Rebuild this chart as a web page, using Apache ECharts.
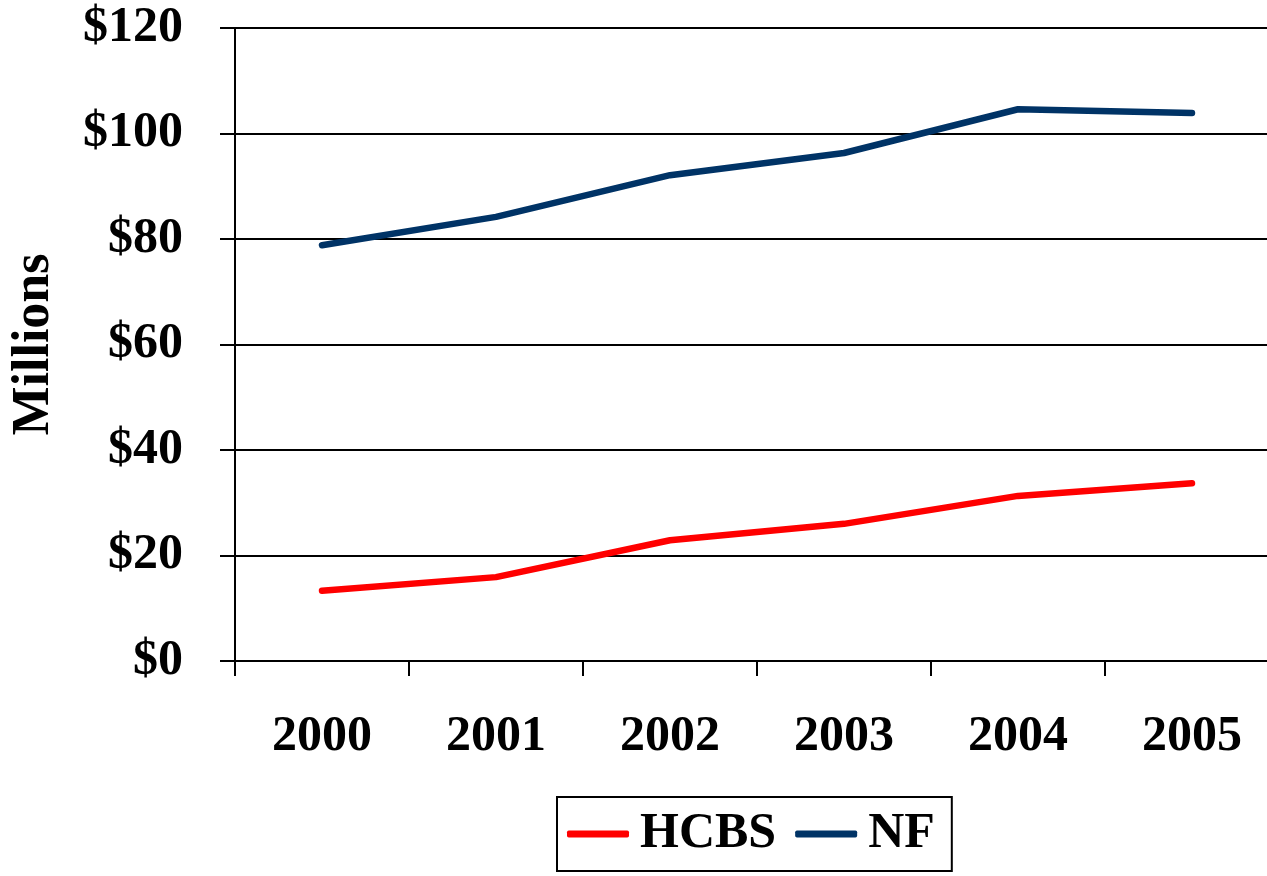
<!DOCTYPE html>
<html>
<head>
<meta charset="utf-8">
<script src="https://cdn.jsdelivr.net/npm/echarts@6/dist/echarts.min.js"></script>
<style>
  html, body { margin: 0; padding: 0; background: #fff; }
  #chart { width: 1267px; height: 876px; }
</style>
</head>
<body>
<div id="chart"></div>
<script>
// years on the x axis
var years = ['2000', '2001', '2002', '2003', '2004', '2005']
// spending, millions of dollars
var hcbs = [13.3, 15.9, 22.9, 26.0, 31.3, 33.7]
var nf = [78.8, 84.2, 92.1, 96.3, 104.6, 103.9]

var font = 'Liberation Serif'
var myChart = echarts.init(document.getElementById('chart'))

var option = {
  animation: false,
  backgroundColor: '#fff',
  textStyle: { fontFamily: font },
  grid: {
    left: 235,
    right: -12,
    top: 28,
    bottom: 215,
    containLabel: false,
    outerBoundsMode: 'none',
  },
  legend: {
    left: 557,
    top: 797,
    padding: [12, 17, 12, 10],
    itemGap: 19,
    itemWidth: 62,
    itemHeight: 7,
    icon: 'roundRect',
    borderColor: '#000',
    borderWidth: 2,
    textStyle: {
      fontFamily: font,
      fontWeight: 'bold',
      fontSize: 50,
      color: '#000',
      padding: [0, 0, 0, 6],
    },
    data: ['HCBS', 'NF'],
  },
  xAxis: {
    type: 'category',
    boundaryGap: true,
    data: years,
    axisLine: { show: true, lineStyle: { color: '#000', width: 2 } },
    axisTick: { show: true, length: 15, lineStyle: { color: '#000', width: 2 } },
    axisLabel: {
      margin: 51,
      color: '#000',
      fontFamily: font,
      fontWeight: 'bold',
      fontSize: 50,
    },
  },
  yAxis: {
    type: 'value',
    min: 0,
    max: 120,
    interval: 20,
    name: 'Millions',
    nameLocation: 'middle',
    nameGap: 174,
    nameTextStyle: {
      fontFamily: font,
      fontWeight: 'bold',
      fontSize: 52,
      color: '#000',
    },
    axisLine: { show: true, lineStyle: { color: '#000', width: 2 } },
    axisTick: { show: true, length: 15, lineStyle: { color: '#000', width: 2 } },
    axisLabel: {
      margin: 52,
      color: '#000',
      fontFamily: font,
      fontWeight: 'bold',
      fontSize: 50,
      formatter: function (v) {
        return '$' + v
      },
    },
    splitLine: { show: true, lineStyle: { color: '#000', width: 2 } },
  },
  series: [
    {
      name: 'HCBS',
      type: 'line',
      data: hcbs,
      symbol: 'none',
      lineStyle: { color: '#ff0000', width: 6.5, cap: 'round' },
      itemStyle: { color: '#ff0000' },
    },
    {
      name: 'NF',
      type: 'line',
      data: nf,
      symbol: 'none',
      lineStyle: { color: '#003366', width: 6.5, cap: 'round' },
      itemStyle: { color: '#003366' },
    },
  ],
}
myChart.setOption(option)
</script>
</body>
</html>
